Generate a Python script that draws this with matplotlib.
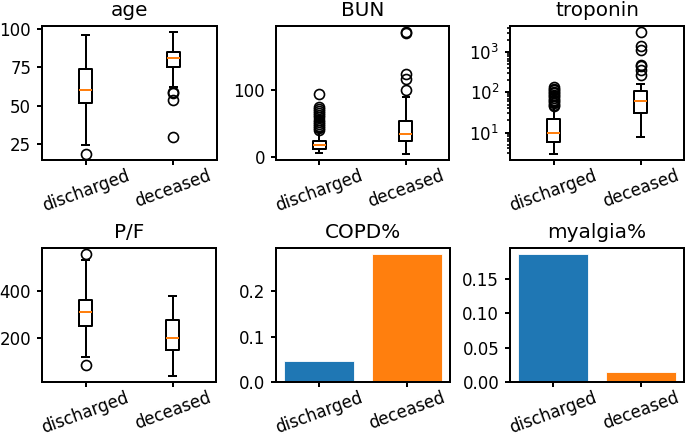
import matplotlib
matplotlib.use("Agg")
import matplotlib.pyplot as plt

plt.rcParams['font.size'] = 10
plt.rcParams['axes.linewidth'] = 1.2
plt.rcParams['xtick.major.width'] = 1.2
plt.rcParams['ytick.major.width'] = 1.2
plt.rcParams['ytick.minor.width'] = 1.0
plt.rcParams['boxplot.boxprops.linewidth'] = 1.2
plt.rcParams['boxplot.whiskerprops.linewidth'] = 1.2
plt.rcParams['boxplot.capprops.linewidth'] = 1.2
plt.rcParams['boxplot.medianprops.linewidth'] = 1.2
plt.rcParams['lines.markeredgewidth'] = 1.2

groups = ["discharged", "deceased"]

# box statistics: [whislo, q1, med, q3, whishi]
age_stats = [[24, 52, 60, 74, 96], [62, 75.5, 81, 85, 98]]
age_fliers = [[18.5], [59, 58, 53.6, 29.3]]

bun_stats = [[6.4, 12.3, 17.7, 24.1, 38], [5, 25, 34.5, 54.7, 90]]
bun_fliers = [[41, 44, 47, 50, 53, 56, 60, 63, 66, 69, 72, 75, 95],
              [101, 117, 124, 185, 187]]

trop_stats = [[2.93, 5.7, 10, 22, 44], [7.9, 31, 60, 110, 160]]
trop_fliers = [[45, 50, 55, 60, 66, 72, 80, 88, 96, 105, 115, 125, 136],
               [277, 370, 446, 490, 1140, 1400, 3200]]

pf_stats = [[119, 253, 313, 364, 536], [36, 146, 200, 276, 381]]
pf_fliers = [[561, 82], []]

copd_pct = [0.046, 0.282]
myalgia_pct = [0.186, 0.014]

DPI = 120
W, H = 685, 436
fig = plt.figure(figsize=(W / DPI, H / DPI), dpi=DPI)

def add_ax(x0, y0, x1, y1):
    return fig.add_axes([x0 / W, 1 - y1 / H, (x1 - x0) / W, (y1 - y0) / H])

ax_age = add_ax(42, 26, 217, 160)
ax_bun = add_ax(276, 26, 449, 160)
ax_trop = add_ax(510, 26, 684, 160)
ax_pf = add_ax(42, 248, 216, 382)
ax_copd = add_ax(276, 248, 450, 382)
ax_mya = add_ax(510, 248, 684, 382)

def make_stats(stats, fliers):
    out = []
    for s, f in zip(stats, fliers):
        out.append(dict(whislo=s[0], q1=s[1], med=s[2], q3=s[3], whishi=s[4], fliers=f))
    return out

def box(ax, stats, fliers, title):
    ax.bxp(make_stats(stats, fliers), positions=[1, 2], widths=0.15)
    ax.set_xticks([1, 2], groups, rotation=20, ha='center')
    ax.set_title(title)

box(ax_age, age_stats, age_fliers, "age")
box(ax_bun, bun_stats, bun_fliers, "BUN")
ax_bun.set_yticks([0, 100])
ax_trop.set_yscale('log')
box(ax_trop, trop_stats, trop_fliers, "troponin")
box(ax_pf, pf_stats, pf_fliers, "P/F")
ax_pf.set_yticks([200, 400])

def bars(ax, vals, title):
    ax.bar(groups, vals, color=['C0', 'C1'], edgecolor='white', linewidth=0.5)
    ax.set_xticks([0, 1], groups, rotation=20, ha='center')
    ax.set_title(title)

bars(ax_copd, copd_pct, "COPD%")
ax_copd.set_yticks([0.0, 0.1, 0.2])
bars(ax_mya, myalgia_pct, "myalgia%")
ax_mya.set_yticks([0.0, 0.05, 0.10, 0.15])

for ax in fig.axes:
    ax.tick_params(axis='x', length=3, pad=1.0)
    ax.tick_params(axis='y', length=3)

fig.savefig("out.png", dpi=DPI)
